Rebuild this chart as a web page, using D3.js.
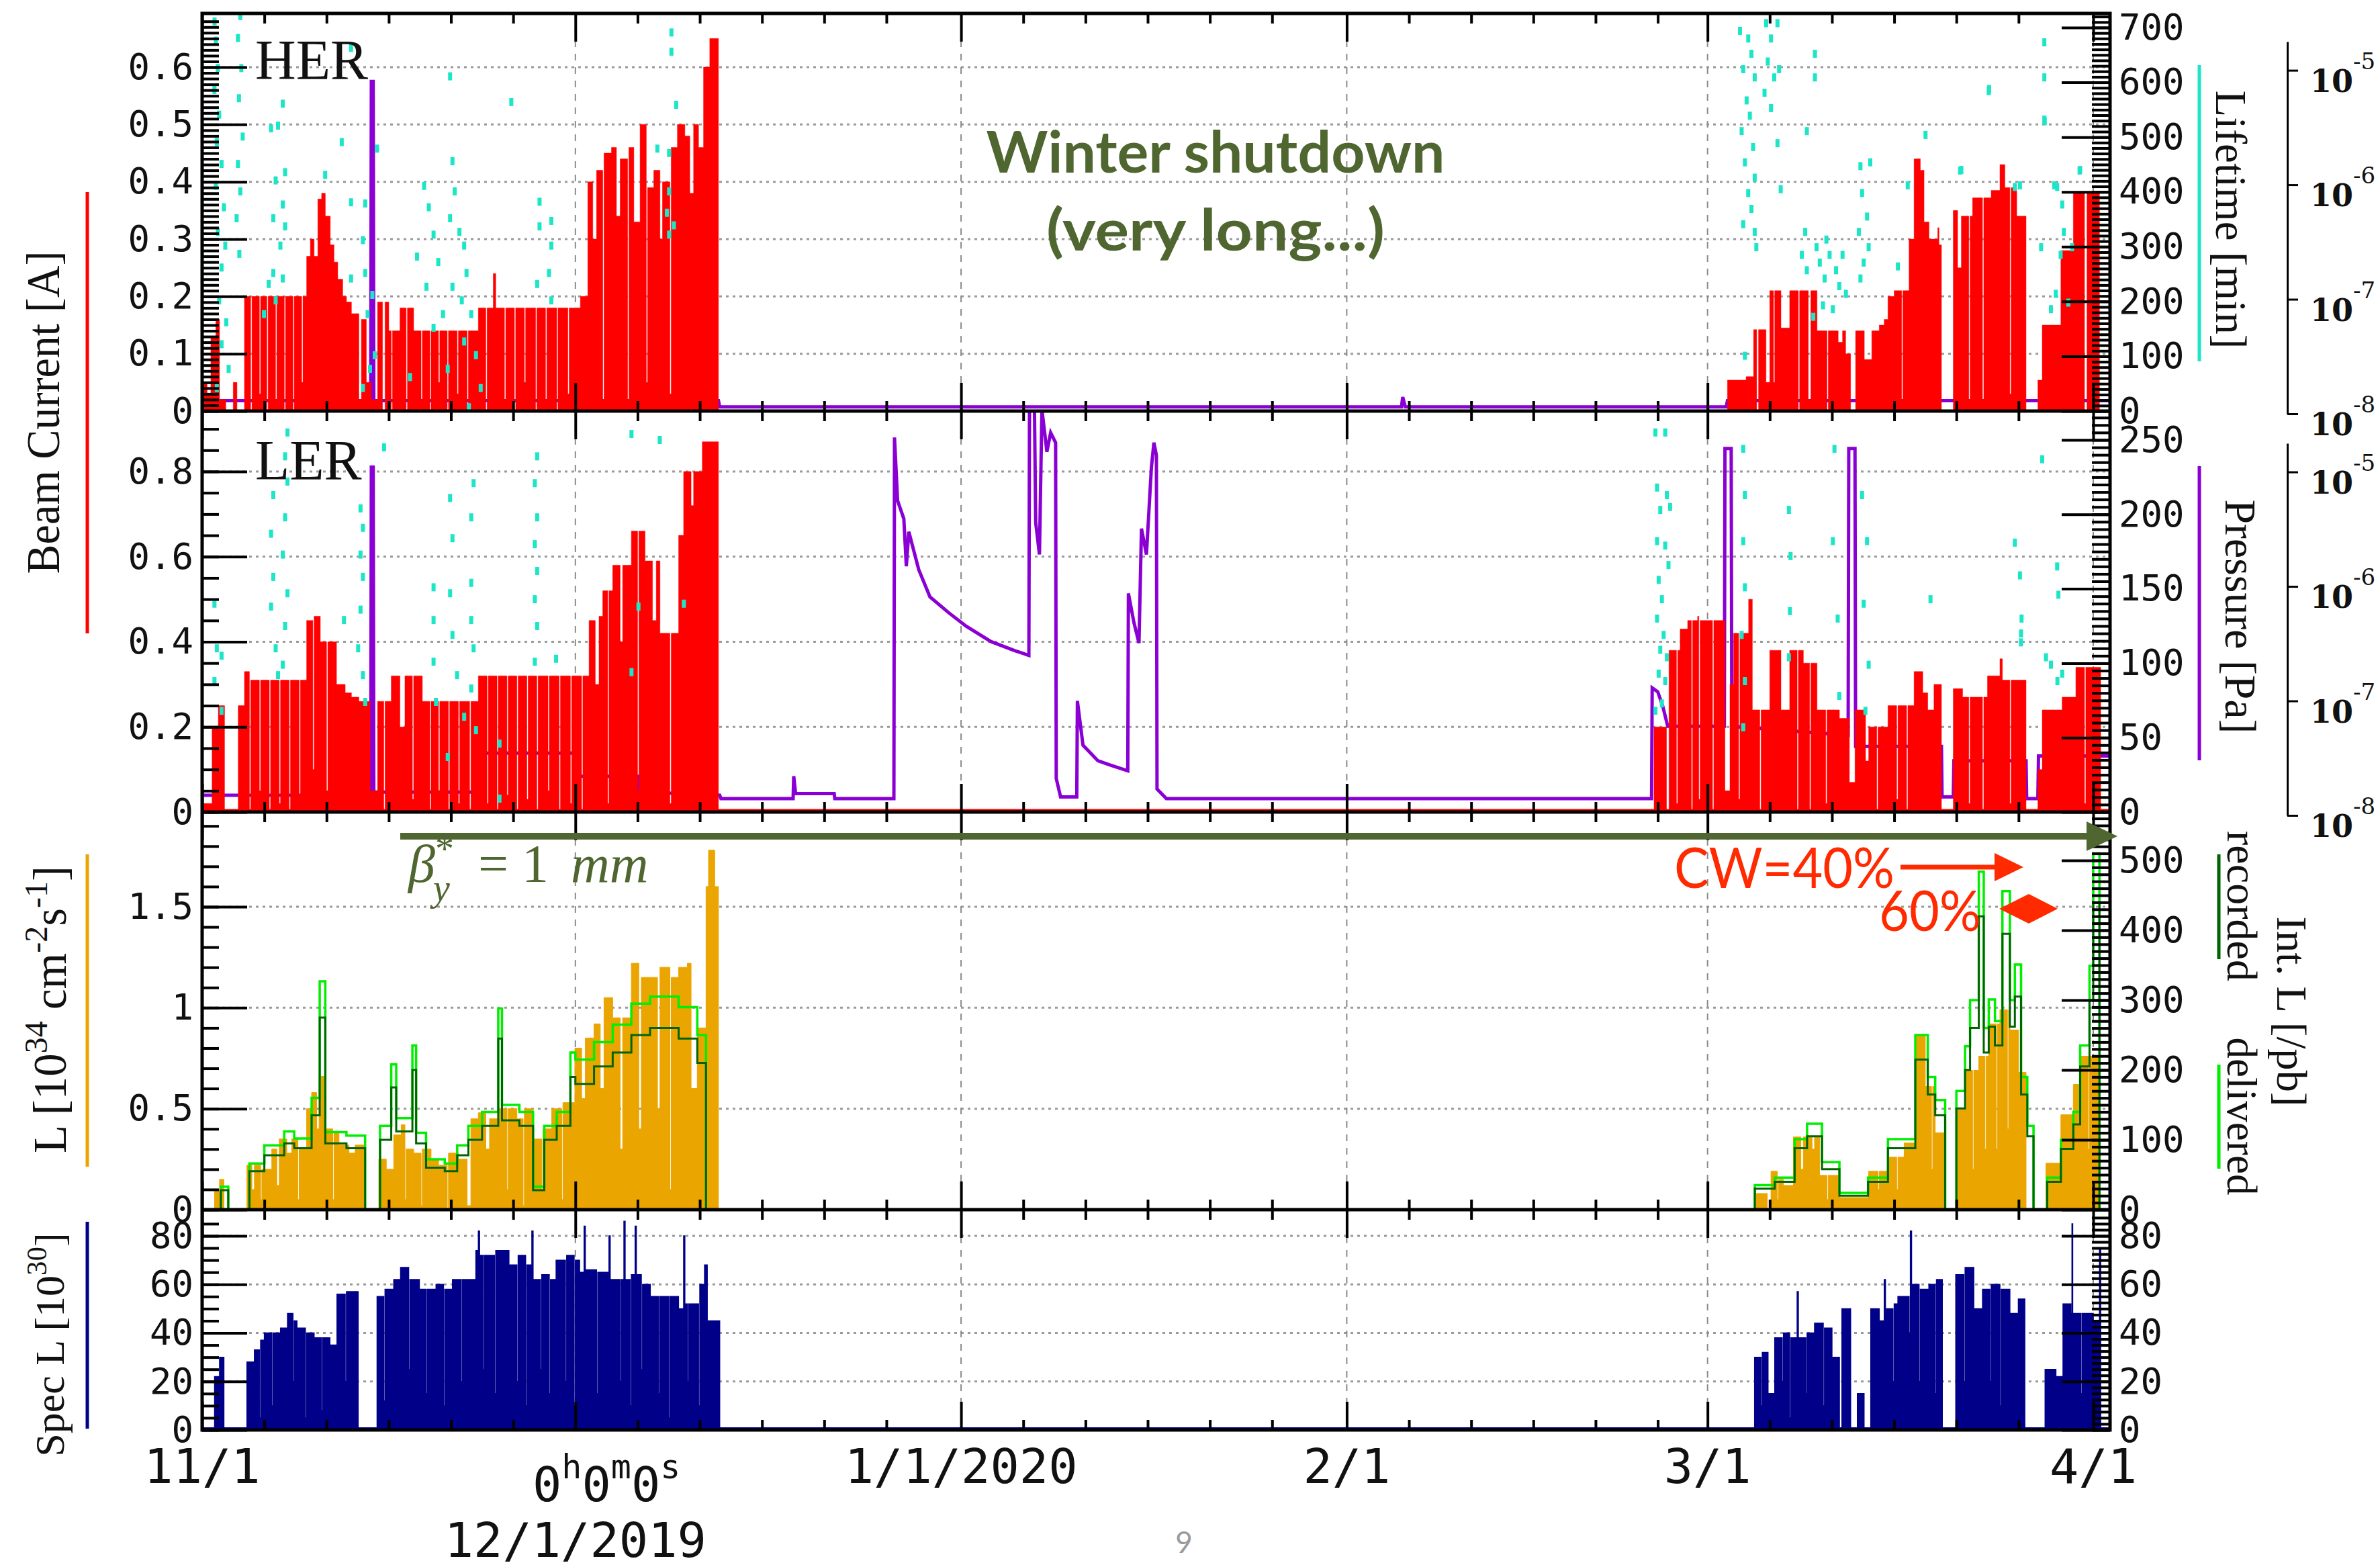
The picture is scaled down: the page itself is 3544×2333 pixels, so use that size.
<!DOCTYPE html>
<html>
<head>
<meta charset="utf-8">
<script src="https://cdnjs.cloudflare.com/ajax/libs/d3/7.8.5/d3.min.js"></script>
<style>
  body { margin: 0; background: #fff; }
  svg { display: block; }
</style>
</head>
<body>
<svg id="chart" width="3544" height="2333"></svg>
<script>
// days counted from 11/1/2019 00:00
var monthStarts = [0, 30, 61, 92, 121, 152];

// tick values
var herTicks = [0, 0.1, 0.2, 0.3, 0.4, 0.5, 0.6];
var lerTicks = [0, 0.2, 0.4, 0.6, 0.8];
var lumTicks = [0, 0.5, 1, 1.5];
var specTicks = [0, 20, 40, 60, 80];
var lifeTicks = [0, 100, 200, 300, 400, 500, 600, 700];
var presTicks = [0, 50, 100, 150, 200, 250];
var intTicks = [0, 100, 200, 300, 400, 500];
var logTicks = [1e-8, 1e-7, 1e-6, 1e-5];

// HER beam current [A], step values [day, A]
var herCurrent = [[0,0.05],[0.4,0.03],[0.7,0.13],[1.1,0.16],[1.4,0.02],[1.9,0],[2.5,0.05],[2.8,0],[3.4,0.2],[3.9,0],[4.0,0.2],[4.6,0.03],[4.7,0.2],[5.2,0],[5.3,0.2],[5.9,0.02],[6.0,0.2],[6.6,0],[6.7,0.2],[7.3,0],[7.4,0.2],[8.0,0.05],[8.1,0.2],[8.4,0.27],[8.7,0.3],[9.0,0.27],[9.3,0.37],[9.6,0.38],[9.9,0.34],[10.3,0.29],[10.6,0.26],[10.9,0.23],[11.3,0.2],[11.6,0.19],[12.0,0.17],[12.6,0.02],[12.8,0.16],[13.2,0.05],[13.6,0.02],[14.1,0.19],[14.5,0],[14.7,0.19],[15.0,0.14],[15.2,0],[15.3,0.14],[15.9,0.18],[16.4,0],[16.5,0.18],[17.0,0.14],[17.6,0.02],[17.7,0.14],[18.3,0],[18.4,0.14],[19.0,0.05],[19.1,0.14],[19.7,0],[19.8,0.14],[20.5,0.03],[20.6,0.14],[21.3,0],[21.4,0.14],[22.2,0.18],[22.8,0],[22.9,0.18],[23.4,0.24],[23.6,0.18],[24.3,0.02],[24.4,0.18],[25.1,0],[25.2,0.18],[25.9,0.05],[26.0,0.18],[26.8,0],[26.9,0.18],[27.6,0.02],[27.7,0.18],[28.5,0],[28.6,0.18],[29.4,0.03],[29.5,0.18],[30.4,0.2],[31.0,0.4],[31.4,0.3],[31.7,0.42],[32.2,0.02],[32.3,0.45],[32.9,0.46],[33.3,0.34],[33.6,0.44],[34.2,0.02],[34.3,0.46],[34.7,0.33],[35.2,0.5],[35.7,0.05],[35.8,0.39],[36.3,0.42],[36.8,0.3],[37.0,0.4],[37.6,0.03],[37.7,0.46],[38.2,0.5],[38.8,0.48],[39.2,0.38],[39.5,0.5],[39.9,0.46],[40.3,0.6],[40.8,0.65],[41.5,0],
  [122.6,0.054],[124.1,0.06],[124.7,0.142],[124.95,0],[125.1,0.142],[125.7,0.05],[126.0,0.21],[126.3,0.05],[126.4,0.21],[126.9,0.145],[127.6,0.21],[128.3,0],[128.4,0.21],[129.1,0.02],[129.3,0.21],[129.8,0.14],[130.6,0],[130.7,0.14],[131.5,0.12],[131.85,0.14],[132.1,0.1],[132.5,0],[132.9,0.14],[133.6,0.09],[134.2,0.14],[134.8,0.15],[135.2,0.16],[135.5,0.2],[136.0,0.21],[136.6,0.02],[136.7,0.21],[137.2,0.3],[137.6,0.44],[138.1,0.42],[138.4,0.33],[138.8,0.3],[139.2,0.3],[139.5,0.32],[139.6,0.29],[139.8,0],[140.75,0.35],[141.1,0.25],[141.4,0.34],[142.0,0.02],[142.1,0.34],[142.3,0.372],[143.1,0.02],[143.2,0.372],[143.8,0.385],[144.5,0.43],[144.9,0.39],[145.3,0.03],[145.4,0.39],[145.85,0.34],[146.6,0],[147.55,0.054],[147.9,0.15],[149.4,0.28],[150.4,0.38],[151.3,0],[151.5,0.38],[152.5,0],[153.35,0]];

// LER beam current [A]
var lerCurrent = [[0,0.02],[0.8,0.2],[1.3,0.25],[1.8,0],[2.9,0.25],[3.4,0.33],[3.8,0],[3.9,0.31],[4.6,0.05],[4.7,0.31],[5.4,0],[5.5,0.31],[6.2,0.02],[6.3,0.31],[7.0,0],[7.1,0.31],[7.8,0.04],[7.9,0.31],[8.4,0.45],[8.9,0.1],[9.0,0.46],[9.5,0.4],[10.0,0.05],[10.1,0.4],[10.8,0.3],[11.5,0.28],[12.0,0.27],[12.6,0.26],[13.5,0.05],[14.1,0.26],[14.6,0],[14.7,0.26],[15.2,0.32],[15.9,0.2],[16.3,0.32],[16.9,0.03],[17.0,0.32],[17.7,0.26],[18.3,0],[18.4,0.26],[19.0,0.05],[19.1,0.26],[19.8,0],[19.9,0.26],[20.6,0.02],[20.7,0.26],[21.5,0],[21.6,0.26],[22.2,0.32],[22.9,0.02],[23.0,0.32],[23.7,0],[23.8,0.32],[24.5,0.04],[24.6,0.32],[25.3,0],[25.4,0.32],[26.1,0.03],[26.2,0.32],[26.9,0],[27.0,0.32],[27.8,0.05],[27.9,0.32],[28.7,0],[28.8,0.32],[29.6,0.02],[29.7,0.32],[30.5,0],[30.6,0.32],[31.1,0.45],[31.6,0.3],[31.9,0.46],[32.2,0.52],[32.6,0.02],[32.7,0.52],[33.0,0.58],[33.6,0.4],[33.8,0.58],[34.5,0.66],[35.0,0.05],[35.1,0.66],[35.6,0.59],[36.2,0.45],[36.5,0.59],[36.8,0.42],[37.6,0.02],[37.7,0.42],[38.3,0.65],[38.7,0.8],[39.3,0.72],[39.5,0.8],[40.2,0.87],[41.5,0],
  [116.7,0.2],[117.7,0],[117.9,0.38],[118.5,0.02],[118.6,0.38],[118.8,0.43],[119.4,0.45],[119.7,0],[119.8,0.45],[120.2,0.46],[120.3,0.03],[120.4,0.45],[121.1,0.45],[121.4,0],[121.5,0.45],[122.4,0.05],[122.8,0.3],[123.1,0.42],[123.5,0.03],[123.6,0.42],[124.3,0.5],[124.6,0.24],[125.2,0],[125.3,0.24],[126.0,0.38],[126.9,0.24],[127.6,0.38],[128.2,0],[128.3,0.38],[128.7,0.35],[129.2,0],[129.3,0.35],[129.8,0.24],[130.5,0.02],[130.6,0.24],[131.6,0.22],[132.4,0.07],[132.85,0.24],[133.7,0.12],[133.95,0.2],[134.6,0],[134.7,0.2],[135.5,0.25],[136.2,0.03],[136.3,0.25],[137.0,0],[137.1,0.25],[137.6,0.33],[138.3,0.28],[138.7,0.24],[139.2,0.3],[139.8,0],[140.75,0.29],[141.5,0.27],[142.0,0.02],[142.1,0.27],[143.1,0],[143.2,0.27],[143.5,0.32],[144.5,0.36],[144.7,0.31],[145.3,0.02],[145.4,0.31],[146.6,0],[147.55,0.1],[147.9,0.24],[149.5,0.27],[150.6,0.34],[151.3,0.02],[151.4,0.34],[152.6,0],[153.35,0]];

// pressure [Pa] (log axis)
var herPressure = [[0,1.3e-8],[13.55,1.3e-8],[13.6,8e-6],[13.75,8e-6],[13.8,1.3e-8],[41.5,1.3e-8],[41.6,1.15e-8],[96.4,1.15e-8],[96.5,1.4e-8],[96.7,1.15e-8],[122.5,1.15e-8],[122.6,1.3e-8],[153.35,1.3e-8]];
var lerPressure = [[0,1.5e-8],[13.55,1.5e-8],[13.6,1.1e-5],[13.75,1.1e-5],[13.8,1.6e-8],[22.3,1.6e-8],[22.4,3.5e-8],[30.0,3.5e-8],[30.1,2.2e-8],[35.0,2.2e-8],[35.1,1.6e-8],[41.6,1.5e-8],
  [41.7,1.4e-8],[47.5,1.4e-8],[47.55,2.2e-8],[47.7,1.55e-8],[50.8,1.55e-8],[50.85,1.4e-8],[55.6,1.4e-8],[55.65,2.0e-5],[55.9,5.6e-6],[56.4,3.9e-6],[56.6,1.5e-6],[56.8,3.0e-6],[57.6,1.4e-6],[58.5,8.1e-7],[60.0,5.9e-7],[61.4,4.5e-7],[63.4,3.3e-7],[65.3,2.75e-7],[66.45,2.5e-7],[66.5,3.5e-5],[66.9,3.5e-5],[67.0,3.6e-6],[67.3,1.9e-6],[67.5,3.5e-5],[67.9,1.5e-5],[68.2,2.2e-5],[68.6,1.8e-5],[68.65,2.1e-8],[69.0,1.45e-8],[70.3,1.45e-8],[70.35,1.0e-7],[70.8,4.1e-8],[72.0,3.0e-8],[73.0,2.75e-8],[74.4,2.45e-8],[74.45,8.7e-7],[74.9,4.8e-7],[75.3,3.2e-7],[75.5,3.2e-6],[75.9,1.9e-6],[76.3,1.1e-5],[76.5,1.8e-5],[76.7,1.4e-5],[76.75,1.7e-8],[77.5,1.4e-8],[116.5,1.4e-8],
  [116.55,1.3e-7],[117.0,1.2e-7],[117.4,9e-8],[117.8,6e-8],[122.35,6e-8],[122.4,1.6e-5],[122.9,1.6e-5],[122.95,6e-8],[132.3,5e-8],[132.35,1.6e-5],[132.85,1.6e-5],[132.9,4e-8],[139.8,4e-8],[139.85,1.45e-8],[140.75,1.45e-8],[140.8,3e-8],[146.6,3e-8],[146.65,1.4e-8],[147.55,1.4e-8],[147.6,3.3e-8],[153.35,3.3e-8]];

// lifetime points (cyan), HER on [min] axis
var herLife = [[1.0,711],[1.1,676],[1.26,626],[0.99,586],[1.37,541],[1.18,491],[1.56,451],[1.1,411],[1.75,372],[1.26,327],[1.86,302],[1.56,262],[1.37,202],[1.94,162],[1.56,122],[2.13,77],[1.18,42],[3.07,721],[2.88,681],[3.15,626],[2.96,571],[3.26,501],[2.88,451],[3.07,401],[2.77,352],[2.99,287],[6.48,561],[5.54,516],[6.1,521],[6.67,436],[5.91,421],[6.48,377],[5.72,352],[6.67,337],[6.29,302],[5.72,252],[5.35,232],[6.48,242],[5.91,202],[4.97,177],[9.89,431],[11.22,491],[11.97,381],[11.97,242],[13.11,379],[12.92,312],[13.11,252],[13.68,212],[14.06,479],[13.3,177],[13.87,102],[12.92,42],[13.49,77],[17.84,411],[18.22,372],[18.6,322],[17.27,282],[18.98,272],[18.03,227],[20.12,456],[20.3,401],[19.93,352],[20.68,327],[21.06,302],[21.25,252],[20.12,227],[20.87,202],[21.63,177],[19.36,177],[18.6,152],[21.06,127],[22.01,102],[19.74,77],[16.71,62],[22.39,42],[21.44,7],[24.85,564],[27.12,382],[27.12,337],[28.07,347],[28.07,302],[27.88,252],[26.93,232],[28.07,202],[37.72,691],[37.72,656],[38.1,559],[36.59,479],[37.53,471],[37.53,401],[37.35,362],[37.92,339],[37.53,322],[19.93,611],[11.97,663],
  [123.61,694],[124.27,680],[124.53,652],[123.87,624],[124.79,609],[124.14,567],[124.4,539],[123.74,511],[124.66,482],[124.0,454],[124.79,426],[124.27,398],[124.53,369],[123.87,341],[124.79,327],[124.92,299],[124.0,101],[125.71,708],[126.1,680],[126.62,708],[125.84,638],[126.36,609],[125.58,581],[126.1,553],[126.75,624],[126.88,405],[129.63,652],[129.63,609],[128.98,511],[126.62,489],[128.58,285],[128.98,257],[129.76,299],[130.02,271],[130.41,242],[130.81,285],[131.33,257],[131.85,285],[131.59,228],[130.28,193],[129.5,172],[131.07,186],[132.12,214],[128.85,327],[130.55,313],[133.29,447],[134.08,454],[133.42,398],[133.82,355],[133.16,327],[133.95,299],[133.55,271],[133.29,242],[138.52,504],[143.63,588],[141.4,440],[148.07,673],[148.07,609],[148.07,532],[150.95,440],[148.86,412],[149.51,377],[149.64,327],[149.38,285],[148.99,214],[148.6,186],[150.3,299],[147.81,299],[146.11,412],[137.09,412],[136.3,264],[143.6,584],[141.3,439],[150.9,439],[145.7,409],[149.1,409],[150.0,198],[148.1,529]];

// LER cyan points on the right axis of the LER panel
var lerLife = [[0.99,140],[1.18,110],[1.56,68],[1.56,105],[0.99,88],[6.86,255],[6.67,239],[6.86,222],[5.72,213],[6.67,198],[5.54,187],[6.48,173],[5.72,158],[6.86,147],[5.54,138],[6.67,125],[5.91,110],[6.48,99],[6.1,92],[11.4,129],[12.73,204],[12.92,191],[12.73,173],[12.92,158],[12.73,136],[12.54,110],[12.92,92],[13.11,74],[14.62,245],[19.93,211],[21.82,221],[21.63,198],[20.12,184],[18.6,151],[21.63,154],[19.93,147],[18.6,129],[21.63,129],[20.12,119],[21.82,110],[18.6,101],[20.49,92],[21.63,83],[18.79,74],[21.06,64],[22.01,55],[23.9,46],[19.74,37],[23.9,9],[26.93,239],[26.74,221],[26.93,198],[26.74,180],[26.93,162],[26.74,143],[26.93,125],[26.74,101],[28.45,103],[34.51,254],[36.78,250],[35.07,138],[38.72,140],[34.51,94],
  [116.81,255],[117.6,255],[116.94,218],[117.73,213],[117.2,203],[117.99,205],[116.94,182],[117.6,179],[117.86,166],[117.07,156],[117.33,143],[116.94,130],[117.47,119],[117.2,109],[117.73,104],[117.07,93],[117.6,88],[117.33,73],[116.81,68],[123.87,244],[124.0,213],[123.87,182],[124.0,151],[123.74,119],[124.0,88],[123.87,57],[127.54,203],[127.67,172],[127.62,135],[127.54,104],[131.2,244],[131.07,182],[131.46,130],[131.59,78],[133.42,213],[133.82,182],[133.55,140],[133.95,99],[133.69,68],[146.11,159],[146.24,130],[146.19,114],[148.2,104],[148.6,99],[149.12,88],[149.51,93],[138.92,143],[147.9,237],[145.7,181],[149.1,165],[149.2,146],[146.2,120]];

// luminosity [1e34 cm^-2 s^-1]
var lumi = [[0,0],[1.0,0.1],[1.4,0.15],[1.75,0],[3.6,0.22],[4.0,0.1],[4.2,0.22],[4.7,0.05],[4.8,0.2],[5.35,0.2],[5.6,0.3],[6.0,0.12],[6.2,0.35],[6.8,0.28],[7.2,0.35],[7.7,0.05],[7.8,0.3],[8.4,0.5],[8.8,0.58],[9.2,0.4],[9.4,0.66],[9.9,0.4],[10.5,0.05],[10.6,0.38],[11.0,0.32],[11.8,0.28],[12.3,0.32],[13.1,0],[14.2,0.25],[14.8,0.2],[15.4,0.37],[16.0,0.42],[16.3,0.05],[16.4,0.3],[17.0,0.28],[17.6,0.02],[17.7,0.3],[18.4,0.25],[19.0,0.22],[19.7,0],[19.8,0.28],[20.6,0.25],[21.3,0.02],[21.6,0.45],[22.2,0.48],[22.8,0.3],[23.1,0.45],[23.9,0.5],[24.5,0.1],[24.6,0.5],[25.3,0.45],[25.8,0.02],[25.9,0.5],[26.6,0.35],[27.3,0.1],[27.4,0.4],[28.1,0.5],[28.9,0.05],[29.0,0.53],[29.96,0.8],[30.5,0.55],[30.8,0.85],[31.5,0.92],[32.0,0.6],[32.3,1.05],[33.0,0.95],[33.6,0.3],[33.8,0.95],[34.5,1.22],[35.1,0.4],[35.3,1.15],[36.0,1.15],[36.6,0.5],[36.8,1.2],[37.6,0.1],[37.7,1.15],[38.3,1.2],[39.0,1.22],[39.3,0.6],[39.8,0.9],[40.5,1.6],[40.7,1.78],[41.2,1.6],[41.5,0],
  [124.8,0.08],[125.8,0],[126.1,0.19],[126.6,0.05],[126.7,0.15],[127.1,0.12],[127.9,0.36],[128.5,0.2],[128.7,0.36],[129.4,0.3],[129.6,0.36],[130.0,0.17],[130.6,0.05],[130.7,0.17],[131.6,0.06],[133.95,0.19],[134.7,0.1],[134.8,0.19],[135.5,0.26],[136.2,0.1],[136.3,0.26],[136.8,0.33],[137.7,0.86],[138.5,0.61],[139.0,0.2],[139.1,0.61],[139.3,0.38],[140.1,0],[141.0,0.5],[141.8,0.69],[142.3,0.2],[142.4,0.69],[142.8,0.76],[143.3,0.3],[143.4,0.76],[143.6,0.92],[144.2,0.3],[144.3,0.92],[144.5,0.99],[145.1,0.4],[145.2,0.99],[145.3,0.89],[146.0,0.68],[146.6,0],[148.2,0.23],[149.4,0.47],[150.4,0.62],[150.95,0.76],[151.6,0.3],[151.7,0.76],[152.5,0],[153.35,0]];

// integrated luminosity per day [/pb]
var intDelivered = [[0,0],[1.5,33],[2.1,0],[3.8,66],[5.0,92],[6.6,112],[7.4,102],[8.8,160],[9.45,327],[9.9,111],[11.6,106],[13.1,0],[14.3,120],[15.2,208],[15.6,131],[16.9,235],[17.2,110],[18.0,72],[19.5,66],[20.5,92],[21.4,120],[22.5,140],[23.8,288],[24.1,150],[25.5,140],[26.6,33],[27.5,120],[28.5,140],[29.6,225],[30.0,215],[31.5,240],[33.0,265],[34.5,295],[36.0,305],[38.3,290],[39.8,250],[40.5,0],
  [124.8,35],[126.4,46],[128.0,101],[129.0,123],[130.2,68],[131.6,24],[133.9,46],[135.5,101],[137.7,250],[138.7,190],[139.3,157],[140.1,0],[141.0,170],[141.7,234],[142.1,300],[142.8,484],[143.2,260],[143.6,301],[144.1,270],[144.7,456],[145.3,300],[145.7,351],[146.2,190],[146.7,120],[147.2,0],[148.3,46],[149.4,100],[150.4,140],[150.95,235],[151.7,349],[152.0,510],[152.5,0]];
var intRecorded = [[0,0],[1.5,28],[2.1,0],[3.8,55],[5.0,78],[6.6,95],[7.4,88],[8.8,135],[9.45,275],[9.9,95],[11.6,88],[13.1,0],[14.3,100],[15.2,175],[15.6,112],[16.9,200],[17.2,95],[18.0,60],[19.5,55],[20.5,78],[21.4,100],[22.5,120],[23.8,245],[24.1,128],[25.5,120],[26.6,28],[27.5,100],[28.5,120],[29.6,190],[30.0,180],[31.5,205],[33.0,225],[34.5,250],[36.0,260],[38.3,245],[39.8,210],[40.5,0],
  [124.8,30],[126.4,40],[128.0,88],[129.0,105],[130.2,58],[131.6,20],[133.9,40],[135.5,88],[137.7,215],[138.7,165],[139.3,135],[140.1,0],[141.0,145],[141.7,200],[142.1,260],[142.8,420],[143.2,225],[143.6,262],[144.1,235],[144.7,395],[145.3,262],[145.7,305],[146.2,165],[146.7,105],[147.2,0],[148.3,40],[149.4,87],[150.4,122],[150.95,205],[151.7,300],[152.0,440],[152.5,0]];

// specific luminosity [1e30]
var specLumi = [[0,0],[1.0,22],[1.4,30],[1.75,0],[3.6,28],[4.2,33],[4.6,5],[4.7,37],[5.0,40],[5.6,10],[5.7,40],[6.3,42],[6.86,48],[7.3,20],[7.4,45],[7.62,42],[8.3,5],[8.4,40],[9.0,38],[9.6,8],[9.7,38],[10.27,35],[10.84,56],[11.5,20],[11.6,57],[12.54,0],[14.06,55],[14.6,12],[14.7,58],[15.4,62],[15.95,67],[16.6,25],[16.7,62],[17.46,58],[18.0,15],[18.1,58],[18.8,60],[19.4,10],[19.5,58],[20.12,62],[20.8,20],[20.9,62],[22.0,74],[22.2,82],[22.3,72],[22.6,25],[22.7,72],[23.5,15],[23.6,74],[24.66,68],[25.3,20],[25.4,72],[26.0,10],[26.1,68],[26.5,82],[26.6,62],[27.2,25],[27.3,64],[27.9,15],[28.0,62],[28.45,70],[29.2,20],[29.3,72],[29.9,10],[30.0,70],[30.34,65],[30.7,84],[30.8,66],[31.7,15],[31.8,65],[32.7,80],[32.8,62],[33.6,20],[33.7,62],[33.9,86],[34.0,62],[34.4,10],[34.5,64],[34.8,84],[34.9,64],[35.3,25],[35.4,60],[36.02,55],[36.7,15],[36.8,55],[37.5,5],[37.6,55],[38.29,50],[38.7,80],[38.8,52],[39.0,20],[39.1,52],[39.9,10],[40.0,60],[40.38,68],[40.6,45],[41.6,0],
  [124.78,30],[125.3,10],[125.4,32],[125.86,15],[126.4,38],[127.0,20],[127.1,40],[127.6,5],[127.7,38],[128.2,57],[128.3,38],[128.9,15],[129.0,40],[129.6,44],[130.3,10],[130.4,42],[131.0,30],[131.6,0],[131.8,50],[132.5,0],[133.04,15],[133.58,0],[134.12,50],[134.8,45],[135.2,62],[135.3,50],[135.9,20],[136.0,52],[136.3,55],[137.2,40],[137.3,82],[137.4,60],[138.0,20],[138.1,58],[138.79,60],[139.3,15],[139.4,62],[139.87,0],[140.95,64],[141.6,20],[141.7,67],[142.4,50],[143.1,58],[143.7,20],[143.8,60],[144.5,10],[144.6,58],[145.3,48],[145.98,54],[146.5,0],[148.13,25],[149.0,22],[149.57,52],[150.2,48],[150.29,85],[150.35,48],[151.0,15],[151.1,48],[152.0,45],[152.5,75],[152.6,0],[153.35,0]];

var C = {
  red: "#ff0000", purple: "#8a00d4", cyan: "#1de6c8", orange: "#eba500",
  green: "#00ee00", dkgreen: "#006400", navy: "#000088", olive: "#4f6630", note: "#ff2a00"
};

var svg = d3.select("#chart");
var X0 = 301, X1 = 3142;
var x = d3.scaleLinear().domain([0, 153.35]).range([X0, X1]);

var panels = {
  her:  { top: 20,   bottom: 612 },
  ler:  { top: 612,  bottom: 1209 },
  lum:  { top: 1209, bottom: 1801 },
  spec: { top: 1801, bottom: 2129 }
};

var yHer = d3.scaleLinear().domain([0, 0.6]).range([612, 100]);
var yLife = d3.scaleLinear().domain([0, 700]).range([612, 41]);
var pHer = d3.scaleLog().domain([1e-8, Math.pow(10, -4.75)]).range([616, 62]);
var yLer = d3.scaleLinear().domain([0, 0.8]).range([1209, 702]);
var yPres = d3.scaleLinear().domain([0, 250]).range([1209, 655]);
var pLer = d3.scaleLog().domain([1e-8, Math.pow(10, -4.75)]).range([1214, 660]);
var yLum = d3.scaleLinear().domain([0, 1.5]).range([1801, 1350]);
var yInt = d3.scaleLinear().domain([0, 500]).range([1801, 1281]);
var ySpec = d3.scaleLinear().domain([0, 80]).range([2129, 1840]);

var defs = svg.append("defs");
Object.keys(panels).forEach(function (k) {
  var p = panels[k];
  defs.append("clipPath").attr("id", "clip-" + k).append("rect")
    .attr("x", X0).attr("y", p.top).attr("width", X1 - X0).attr("height", p.bottom - p.top);
});
var layer = function (k) {
  return svg.append("g").attr("clip-path", "url(#clip-" + k + ")");
};

// grid
var grid = svg.append("g");
var hGrid = function (p, y, vals) {
  grid.selectAll(null).data(vals.filter(function (v) { return v > 0; })).enter().append("line")
    .attr("x1", X0).attr("x2", X1).attr("y1", function (d) { return y(d); }).attr("y2", function (d) { return y(d); })
    .attr("stroke", "#9a9a9a").attr("stroke-width", 3).attr("stroke-dasharray", "4,6");
  grid.selectAll(null).data(monthStarts.slice(1)).enter().append("line")
    .attr("x1", function (d) { return x(d); }).attr("x2", function (d) { return x(d); })
    .attr("y1", p.top).attr("y2", p.bottom)
    .attr("stroke", "#8a8a8a").attr("stroke-width", 2).attr("stroke-dasharray", "10,10");
};
hGrid(panels.her, yHer, herTicks);
hGrid(panels.ler, yLer, lerTicks);
hGrid(panels.lum, yLum, lumTicks);
hGrid(panels.spec, ySpec, specTicks);

var stepFill = function (g, data, y, color, sw) {
  g.append("path").datum(data)
    .attr("d", d3.area().curve(d3.curveStepAfter)
      .x(function (d) { return x(d[0]); }).y0(y(0)).y1(function (d) { return y(d[1]); }))
    .attr("fill", color).attr("stroke", color).attr("stroke-width", sw);
};
var stepLine = function (g, data, y, color, sw) {
  g.append("path").datum(data)
    .attr("d", d3.line().curve(d3.curveStepAfter)
      .x(function (d) { return x(d[0]); }).y(function (d) { return y(d[1]); }))
    .attr("fill", "none").attr("stroke", color).attr("stroke-width", sw);
};
var polyLine = function (g, data, y, color, sw) {
  g.append("path").datum(data)
    .attr("d", d3.line().x(function (d) { return x(d[0]); }).y(function (d) { return y(d[1]); }))
    .attr("fill", "none").attr("stroke", color).attr("stroke-width", sw);
};
var dots = function (g, data, y) {
  g.selectAll(null).data(data).enter().append("rect")
    .attr("x", function (d) { return x(d[0]) - 3; })
    .attr("y", function (d) { return y(d[1]) - 6; })
    .attr("width", 6).attr("height", 12).attr("fill", C.cyan);
};

// HER panel
var gHer = layer("her");
polyLine(gHer, herPressure, pHer, C.purple, 5);
stepFill(gHer, herCurrent, yHer, C.red, 0.5);
dots(gHer, herLife, yLife);

// LER panel
var gLer = layer("ler");
polyLine(gLer, lerPressure, pLer, C.purple, 5);
stepFill(gLer, lerCurrent, yLer, C.red, 0.5);
gLer.append("line").attr("x1", X0).attr("x2", X1).attr("y1", yLer(0) - 2).attr("y2", yLer(0) - 2)
  .attr("stroke", C.red).attr("stroke-width", 5);
dots(gLer, lerLife, yPres);

// luminosity panel
var gLum = layer("lum");
stepFill(gLum, lumi, yLum, C.orange, 1);
stepLine(gLum, intDelivered, yInt, C.green, 3.5);
stepLine(gLum, intRecorded, yInt, C.dkgreen, 3);

// specific luminosity panel
var gSpec = layer("spec");
stepFill(gSpec, specLumi, ySpec, C.navy, 1.5);
gSpec.append("line").attr("x1", X0).attr("x2", X1).attr("y1", ySpec(0) - 2).attr("y2", ySpec(0) - 2)
  .attr("stroke", C.navy).attr("stroke-width", 4);

// axes
var styleAxis = function (g, fs) {
  g.select(".domain").remove();
  g.selectAll(".tick line").attr("stroke", "#000").attr("stroke-width", 4);
  g.selectAll(".tick text").attr("font-family", "'DejaVu Sans Mono', monospace")
    .attr("font-size", fs || 54).attr("fill", "#111");
  return g;
};
var fmtNum = function (d) { return d === 0 ? "0" : String(d); };
var leftAxis = function (y, major, minor) {
  styleAxis(svg.append("g").attr("transform", "translate(" + X0 + ",0)")
    .call(d3.axisLeft(y).tickValues(minor).tickSize(-25).tickFormat("")));
  styleAxis(svg.append("g").attr("transform", "translate(" + X0 + ",0)")
    .call(d3.axisLeft(y).tickValues(major).tickSizeInner(-67).tickSizeOuter(0).tickPadding(13).tickFormat(fmtNum)));
};
var rightAxis = function (y, major, minor) {
  styleAxis(svg.append("g").attr("transform", "translate(" + X1 + ",0)")
    .call(d3.axisRight(y).tickValues(minor).tickSize(-27).tickFormat("")));
  styleAxis(svg.append("g").attr("transform", "translate(" + X1 + ",0)")
    .call(d3.axisRight(y).tickValues(major).tickSizeInner(-72).tickSizeOuter(0).tickPadding(13).tickFormat(fmtNum)));
};
leftAxis(yHer, herTicks, d3.range(0, 0.69, 0.01));
leftAxis(yLer, lerTicks, d3.range(0, 0.94, 0.05));
leftAxis(yLum, lumTicks, d3.range(0, 1.95, 0.1));
leftAxis(ySpec, specTicks, d3.range(0, 90, 5));
rightAxis(yLife, lifeTicks, d3.range(0, 725, 10));
rightAxis(yPres, presTicks, d3.range(0, 270, 5));
rightAxis(yInt, intTicks, d3.range(0, 565, 10));
rightAxis(ySpec, specTicks, d3.range(0, 90, 2.5));

// x ticks on every panel frame
var minorDays = monthStarts.slice(0, 5).reduce(function (a, m) {
  return a.concat([5, 10, 15, 20, 25].map(function (k) { return m + k; }));
}, []);
Object.keys(panels).forEach(function (k) {
  var p = panels[k];
  [[d3.axisBottom, p.top], [d3.axisTop, p.bottom]].forEach(function (a) {
    styleAxis(svg.append("g").attr("transform", "translate(0," + a[1] + ")")
      .call(a[0](x).tickValues(monthStarts).tickSize(42).tickFormat("")));
    styleAxis(svg.append("g").attr("transform", "translate(0," + a[1] + ")")
      .call(a[0](x).tickValues(minorDays).tickSize(15).tickFormat("")));
  });
});

// frame
svg.append("rect").attr("x", X0).attr("y", panels.her.top).attr("width", X1 - X0)
  .attr("height", panels.spec.bottom - panels.her.top)
  .attr("fill", "none").attr("stroke", "#000").attr("stroke-width", 5);
[panels.her.bottom, panels.ler.bottom, panels.lum.bottom].forEach(function (yy) {
  svg.append("line").attr("x1", X0).attr("x2", X1).attr("y1", yy).attr("y2", yy)
    .attr("stroke", "#000").attr("stroke-width", 5);
});

// log pressure axes at the far right
[pHer, pLer].forEach(function (p) {
  var g = svg.append("g").attr("transform", "translate(3406,0)")
    .call(d3.axisRight(p).tickValues(logTicks).tickSizeInner(16).tickSizeOuter(0).tickFormat(""));
  g.select(".domain").attr("stroke", "#000").attr("stroke-width", 3);
  g.selectAll(".tick line").attr("stroke", "#000").attr("stroke-width", 3);
  logTicks.forEach(function (v) {
    var t = svg.append("text").attr("x", 3440).attr("y", p(v) + 32)
      .attr("font-family", "'DejaVu Serif', serif").attr("font-weight", "bold")
      .attr("font-size", 46).attr("fill", "#111");
    t.append("tspan").text("10");
    t.append("tspan").attr("dy", -34).attr("font-size", 34).attr("font-weight", "normal")
      .text("-" + Math.round(-Math.log10(v)));
  });
});

// bottom date labels
var labelFont = "'DejaVu Sans Mono', monospace";
[[0, "11/1"], [61, "1/1/2020"], [92, "2/1"], [121, "3/1"], [152, "4/1"]].forEach(function (d) {
  svg.append("text").attr("x", x(d[0])).attr("y", 2208).attr("text-anchor", "middle")
    .attr("font-family", labelFont).attr("font-size", 72).attr("fill", "#111").text(d[1]);
});
var hms = svg.append("text").attr("x", 793).attr("y", 2235)
  .attr("font-family", labelFont).attr("font-size", 72).attr("fill", "#111");
[["0", 0], ["h", 1], ["0", 0], ["m", 1], ["0", 0], ["s", 1]].forEach(function (d) {
  hms.append("tspan").attr("dy", d[1] ? -34 : 34).attr("font-size", d[1] ? 50 : 72).text(d[0]);
});
hms.select("tspan").attr("dy", 0);
svg.append("text").attr("x", x(30)).attr("y", 2318).attr("text-anchor", "middle")
  .attr("font-family", labelFont).attr("font-size", 72).attr("fill", "#111").text("12/1/2019");

// axis titles
var serif = "'Liberation Serif', 'Times New Roman', serif";
var vTitle = function (tx, ty, rot, fs, parts, len) {
  var t = svg.append("text").attr("transform", "translate(" + tx + "," + ty + ") rotate(" + rot + ")")
    .attr("text-anchor", "middle").attr("font-family", serif).attr("font-size", fs).attr("fill", "#111");
  parts.forEach(function (p) {
    var s = t.append("tspan").text(p[0]);
    if (p[1]) s.attr("dy", p[1]);
    if (p[2]) s.attr("font-size", p[2]);
  });
  if (len) t.attr("textLength", len).attr("lengthAdjust", "spacingAndGlyphs");
};
vTitle(88, 614, -90, 70, [["Beam Current [A]"]], 481);
vTitle(98, 1503, -90, 69, [["L [10"], ["34", -28, 48], [" cm", 28], ["-2", -28, 48], ["s", 28], ["-1", -28, 48], ["]", 28]]);
vTitle(95, 2002, -90, 62, [["Spec L [10"], ["30", -26, 43], ["]", 26]]);
vTitle(3300, 327, 90, 65, [["Lifetime [min]"]], 385);
vTitle(3314, 918, 90, 66, [["Pressure [Pa]"]], 349);
vTitle(3391, 1506, 90, 64, [["Int. L [/pb]"]], 283);
vTitle(3317, 1349, 90, 64, [["recorded"]], 224);
vTitle(3317, 1662, 90, 63, [["delivered"]], 235);

// colour keys beside the titles
[[130, 286, 943, C.red], [130, 1272, 1737, C.orange], [130, 1819, 2127, C.navy],
 [3275, 97, 538, C.cyan], [3275, 694, 1132, C.purple], [3304, 1272, 1428, C.dkgreen], [3304, 1585, 1740, C.green]]
  .forEach(function (k) {
    svg.append("line").attr("x1", k[0]).attr("x2", k[0]).attr("y1", k[1]).attr("y2", k[2])
      .attr("stroke", k[3]).attr("stroke-width", 5);
  });

// panel names
svg.append("text").attr("x", 380).attr("y", 118).attr("font-family", serif).attr("font-size", 84).attr("fill", "#111").text("HER");
svg.append("text").attr("x", 380).attr("y", 714).attr("font-family", serif).attr("font-size", 84).attr("fill", "#111").text("LER");

// annotations
var sans = "Lato, 'Open Sans', sans-serif";
svg.append("text").attr("x", 1810).attr("y", 257).attr("text-anchor", "middle")
  .attr("font-family", sans).attr("font-weight", "bold").attr("font-size", 86).attr("fill", C.olive)
  .attr("textLength", 683).attr("lengthAdjust", "spacingAndGlyphs").text("Winter shutdown");
svg.append("text").attr("x", 1810).attr("y", 373).attr("text-anchor", "middle")
  .attr("font-family", sans).attr("font-weight", "bold").attr("font-size", 86).attr("fill", C.olive)
  .attr("textLength", 504).attr("lengthAdjust", "spacingAndGlyphs").text("(very long...)");

svg.append("line").attr("x1", 596).attr("x2", 3110).attr("y1", 1245).attr("y2", 1245)
  .attr("stroke", C.olive).attr("stroke-width", 10);
svg.append("polygon").attr("points", "3107,1223 3153,1245 3107,1267").attr("fill", C.olive);

var beta = svg.append("text").attr("y", 1313).attr("font-family", serif).attr("font-size", 80).attr("fill", C.olive);
beta.append("tspan").attr("x", 608).attr("font-style", "italic").text("β");
beta.append("tspan").attr("x", 648).attr("dy", -30).attr("font-size", 56).text("*");
beta.append("tspan").attr("x", 645).attr("dy", 58).attr("font-size", 56).attr("font-style", "italic").text("y");
beta.append("tspan").attr("x", 712).attr("dy", -28).text("= 1");
beta.append("tspan").attr("x", 850).attr("font-style", "italic").text("mm");

svg.append("text").attr("x", 2493).attr("y", 1322).attr("font-family", sans).attr("font-size", 84)
  .attr("fill", C.note).attr("textLength", 328).attr("lengthAdjust", "spacingAndGlyphs").text("CW=40%");
svg.append("text").attr("x", 2798).attr("y", 1386).attr("font-family", sans).attr("font-size", 84)
  .attr("fill", C.note).attr("textLength", 152).attr("lengthAdjust", "spacingAndGlyphs").text("60%");
svg.append("line").attr("x1", 2830).attr("x2", 2975).attr("y1", 1291).attr("y2", 1291)
  .attr("stroke", C.note).attr("stroke-width", 7);
svg.append("polygon").attr("points", "2970,1270 3013,1291 2970,1312").attr("fill", C.note);
svg.append("polygon").attr("points", "2977,1353 3021,1331 3064,1353 3021,1375").attr("fill", C.note);

// slide page number
svg.append("text").attr("x", 1763).attr("y", 2312).attr("text-anchor", "middle")
  .attr("font-family", sans).attr("font-size", 44).attr("fill", "#9a9a9a").text("9");
</script>
</body>
</html>
